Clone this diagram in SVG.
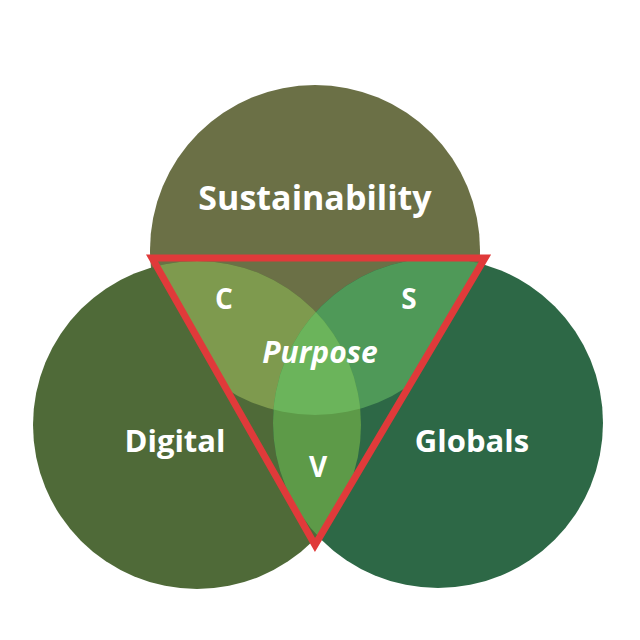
<svg xmlns="http://www.w3.org/2000/svg" width="640" height="640" viewBox="0 0 640 640">
<style>
text{font-family:"Open Sans","Liberation Sans",sans-serif;font-weight:bold;fill:#fff;text-anchor:middle}
</style>
<defs>
<clipPath id="tri"><polygon points="152,258 485,258 315,545"/></clipPath>
<clipPath id="cT"><circle cx="315" cy="250" r="165"/></clipPath>
<clipPath id="cL"><circle cx="197" cy="425" r="164"/></clipPath>
<clipPath id="cR"><circle cx="438" cy="423" r="165"/></clipPath>
</defs>
<rect width="640" height="640" fill="#fff"/>
<g id="sustainability"><circle cx="315" cy="250" r="165" fill="#6b7046"/></g>
<g id="digital"><circle cx="197" cy="425" r="164" fill="#4f6a38"/></g>
<g id="globals"><circle cx="438" cy="423" r="165" fill="#2d6846"/></g>
<g id="overlaps" clip-path="url(#tri)">
<g clip-path="url(#cT)"><circle cx="197" cy="425" r="164" fill="#7e9a4e"/><circle cx="438" cy="423" r="165" fill="#4f9958"/></g>
<g clip-path="url(#cL)"><circle cx="438" cy="423" r="165" fill="#5d9a48"/></g>
<g clip-path="url(#cT)"><g clip-path="url(#cL)"><circle cx="438" cy="423" r="165" fill="#6bb45b"/></g></g>
</g>
<g id="triangle"><polygon points="152,258 485,258 315,545" fill="none" stroke="#e03a3a" stroke-width="7" stroke-linejoin="miter"/></g>
<text x="315" y="210" font-size="34">Sustainability</text>
<text x="175" y="452" font-size="31">Digital</text>
<text x="472" y="452" font-size="31">Globals</text>
<text x="224" y="309" font-size="28">C</text>
<text x="409" y="309" font-size="28">S</text>
<text x="318" y="477" font-size="28">V</text>
<text x="320" y="363" font-size="30" font-style="italic">Purpose</text>
</svg>
